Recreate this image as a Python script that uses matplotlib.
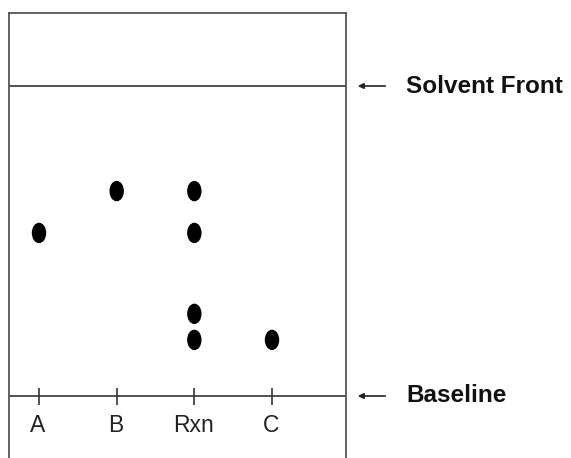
import matplotlib
matplotlib.use("Agg")
import matplotlib.pyplot as plt
from matplotlib.patches import Ellipse

plt.rcParams['font.family'] = ['Liberation Sans', 'DejaVu Sans']

lanes = ["A", "B", "Rxn", "C"]
spot_lane = ["A", "B", "Rxn", "Rxn", "Rxn", "Rxn", "C"]
spot_rf = [0.526, 0.661, 0.661, 0.526, 0.265, 0.181, 0.181]
marker_labels = ["Solvent Front", "Baseline"]
marker_rf = [1.0, 0.0]

W, H = 571, 458
fig = plt.figure(figsize=(W / 100, H / 100), dpi=100)
left_px, right_px, top_px = 9, 346, 13
ax = fig.add_axes([left_px / W, 0, (right_px - left_px) / W, (H - top_px) / H])

unit = 77.67
xmin = -(39 - left_px) / unit
xmax = xmin + (right_px - left_px) / unit
ax.set_xlim(xmin, xmax)
base_px, front_px = 396, 86
scale = base_px - front_px
ax.set_ylim((base_px - H) / scale, (base_px - top_px) / scale)

for s in ['left', 'right', 'top']:
    ax.spines[s].set_color('#555555')
    ax.spines[s].set_linewidth(1.3)
ax.spines['bottom'].set_visible(False)
ax.set_xticks([])
ax.set_yticks([])

for rf in marker_rf:
    ax.axhline(rf, color='#333333', lw=1.2)

lane_x = {name: i for i, name in enumerate(lanes)}
tick_h = 8.5 / scale
ax.vlines([lane_x[n] for n in lanes], -tick_h, tick_h, color='#333333', lw=1.2)
for n in lanes:
    ax.text(lane_x[n] - 1 / unit, -29 / scale, n, ha='center', va='center', fontsize=16.5, color='#222222')

ew, eh = 13 / unit, 19 / scale
for n, rf in zip(spot_lane, spot_rf):
    ax.add_patch(Ellipse((lane_x[n], rf), ew, eh, color='black'))

for lab, rf in zip(marker_labels, marker_rf):
    ax.annotate('', xy=(355 / W, rf), xytext=(388 / W, rf),
                xycoords=('figure fraction', 'data'), textcoords=('figure fraction', 'data'),
                arrowprops=dict(arrowstyle='-|>', color='#222222', lw=1.2, mutation_scale=8),
                annotation_clip=False)
    ax.annotate(lab, xy=(406 / W, rf), xycoords=('figure fraction', 'data'),
                ha='left', va='center', fontsize=17.5, fontweight='bold', color='#111111',
                annotation_clip=False)

fig.savefig('out.png', dpi=100)
